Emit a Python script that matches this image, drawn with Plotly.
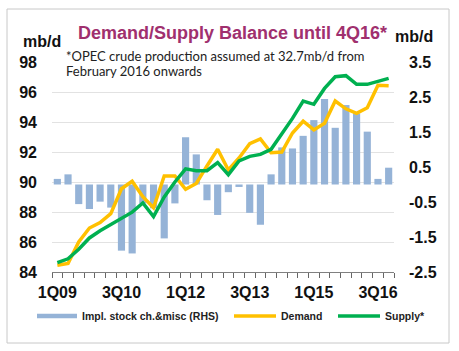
import plotly.graph_objects as go

quarters = [f"{q}Q{y:02d}" for y in range(9, 17) for q in range(1, 5)]
demand = [84.45, 84.57, 86.0, 86.93, 87.29, 87.89, 89.55, 90.05, 89.02, 88.28,
          90.4, 90.4, 89.51, 89.9, 91.07, 92.18, 90.8, 91.6, 92.55, 92.87,
          91.95, 92.0, 93.27, 94.05, 93.47, 93.91, 95.4, 94.88, 94.58, 94.95,
          96.45, 96.42]
supply = [84.63, 84.88, 85.52, 86.27, 86.75, 87.15, 87.58, 87.99, 88.6, 87.7,
          89.0, 90.0, 90.88, 90.75, 90.75, 91.29, 90.49, 91.41, 91.71, 91.84,
          92.18, 93.18, 94.24, 95.4, 95.18, 96.24, 97.02, 97.09, 96.51, 96.51,
          96.69, 96.91]
stock = [0.16, 0.29, -0.56, -0.70, -0.49, -0.66, -1.89, -1.97, -0.54, -0.68,
         -1.54, -0.54, 1.35, 0.86, -0.45, -0.87, -0.22, -0.07, -0.81, -1.15,
         0.29, 1.06, 1.03, 1.39, 1.84, 2.44, 1.62, 2.27, 2.03, 1.51,
         0.16, 0.48]
left_ticks = [84, 86, 88, 90, 92, 94, 96, 98]
right_ticks = [-2.5, -1.5, -0.5, 0.5, 1.5, 2.5, 3.5]
right_labels = ["-2.5", "-1.5", "-0.5", "0.5", "1.5", "2.5", "3.5"]
x_labels = [q if i % 6 == 0 else "" for i, q in enumerate(quarters)]

W, H = 459, 351
L, R, T, B = 52, 394, 62, 272
FONT = "Liberation Sans, Arial, sans-serif"
BLUE, YELLOW, GREEN = "#95B3D7", "#FFC000", "#00B050"


def px(x):
    return (x - L) / (R - L)


def py(y):
    return (B - y) / (B - T)


fig = go.Figure()
fig.add_trace(go.Bar(x=quarters, y=stock, name="Impl. stock ch.&misc (RHS)",
                     marker=dict(color=BLUE, line=dict(width=0)),
                     yaxis="y", showlegend=False))
fig.add_trace(go.Scatter(x=quarters, y=demand, name="Demand", mode="lines",
                         line=dict(color=YELLOW, width=3.5), yaxis="y2",
                         showlegend=False))
fig.add_trace(go.Scatter(x=quarters, y=supply, name="Supply*", mode="lines",
                         line=dict(color=GREEN, width=3.5), yaxis="y2",
                         showlegend=False))

annotations = [
    dict(text="Demand/Supply Balance until 4Q16*", x=px(232), y=py(33),
         font=dict(size=18, color="#A0306E", family=FONT, weight="bold")),
    dict(text="mb/d", x=px(42), y=py(42),
         font=dict(size=16, color="#111", family=FONT, weight="bold")),
    dict(text="mb/d", x=px(414), y=py(36),
         font=dict(size=16, color="#111", family=FONT, weight="bold")),
    dict(text="*OPEC crude production assumed at 32.7mb/d from", x=px(64), y=py(56),
         xanchor="left", font=dict(size=13, color="#222", family="Lato, sans-serif")),
    dict(text="February 2016 onwards", x=px(64), y=py(71),
         xanchor="left", font=dict(size=13, color="#222", family="Lato, sans-serif")),
]
legend_items = [("Impl. stock ch.&misc (RHS)", BLUE, 37, 77, 4.5),
                ("Demand", YELLOW, 234, 276, 3.5),
                ("Supply*", GREEN, 338, 380, 3.5)]
shapes = [dict(type="rect", xref="paper", yref="paper", x0=px(7), x1=px(449),
               y0=py(343), y1=py(9), line=dict(color="#C8C8C8", width=1))]
for name, col, x0, x1, w in legend_items:
    shapes.append(dict(type="line", xref="paper", yref="paper", x0=px(x0), x1=px(x1),
                       y0=py(316), y1=py(316), line=dict(color=col, width=w)))
    annotations.append(dict(text=name, x=px(x1 + 3), y=py(316), xanchor="left",
                            font=dict(size=10.5, color="#222", family=FONT, weight="bold")))
for a in annotations:
    a.update(xref="paper", yref="paper", showarrow=False)
    a.setdefault("xanchor", "center")
    a.setdefault("yanchor", "middle")

fig.update_layout(
    width=W, height=H,
    margin=dict(l=L, r=W - R, t=T, b=H - B, pad=0),
    paper_bgcolor="white", plot_bgcolor="white",
    bargap=0.33,
    font=dict(family=FONT, color="#111"),
    xaxis=dict(type="category", tickvals=quarters, ticktext=x_labels,
               tickson="boundaries", ticks="outside", ticklen=5, tickcolor="#666",
               showline=True, linecolor="#808080", linewidth=1, showgrid=False,
               tickangle=0, ticklabelstandoff=6,
               tickfont=dict(size=16, family=FONT, color="#111", weight="bold")),
    yaxis=dict(side="right", range=[-2.5, 3.5], tickvals=right_ticks,
               ticktext=right_labels, showgrid=False, zeroline=False,
               ticks="", ticklabelstandoff=14,
               tickfont=dict(size=16, family=FONT, color="#111", weight="bold")),
    yaxis2=dict(side="left", overlaying="y", range=[84, 98], tickvals=left_ticks,
                showgrid=True, gridcolor="#E2E2E2", gridwidth=1, zeroline=False,
                ticks="", ticklabelstandoff=14,
                tickfont=dict(size=16, family=FONT, color="#111", weight="bold")),
    annotations=annotations,
    shapes=shapes,
)
fig.write_html("out.html")
